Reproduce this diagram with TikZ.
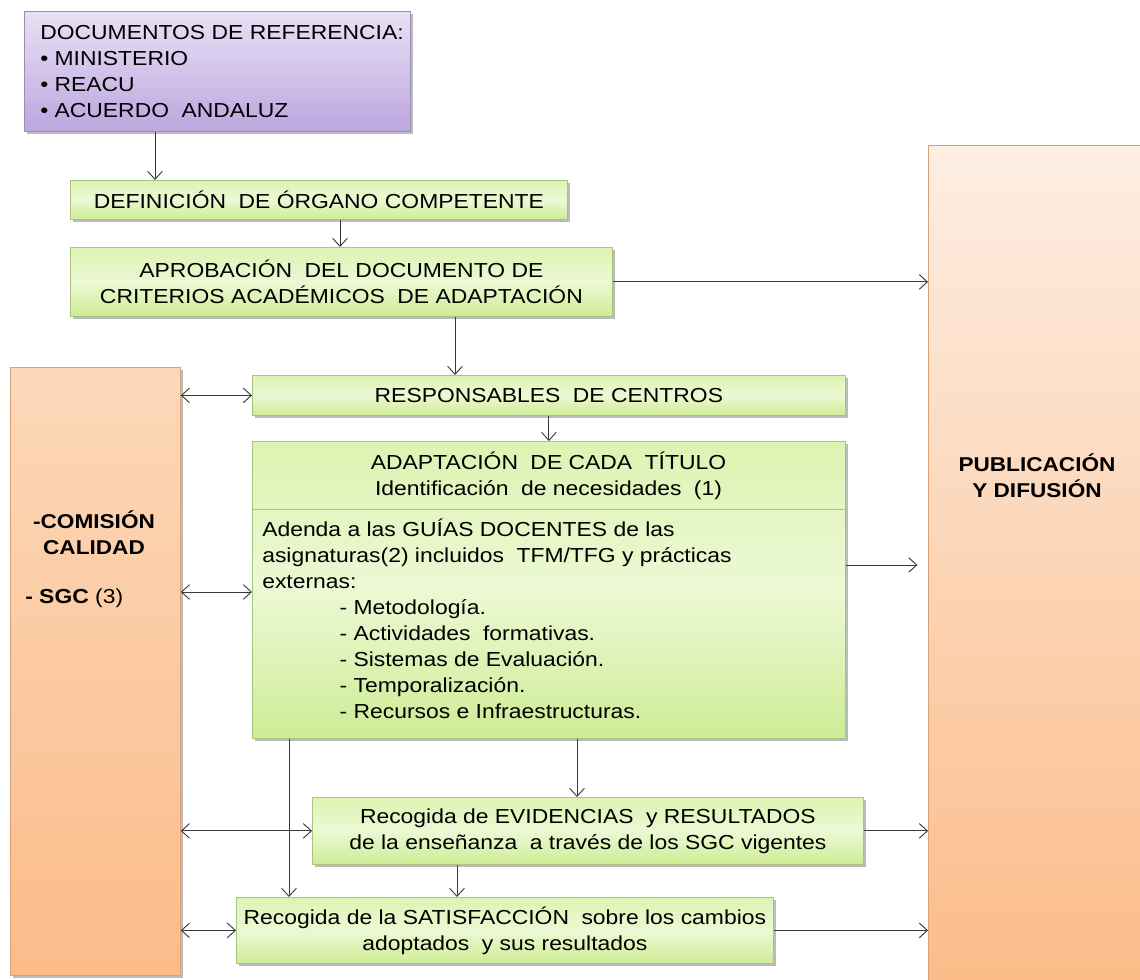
\documentclass[tikz,border=0pt]{standalone}
\usepackage{fontspec}
\setmainfont{Liberation Sans}[FakeStretch=1.13]
\usetikzlibrary{arrows.meta,calc,shadows}
\newcommand\dsp{\hspace{0.3em} }
\definecolor{lineC}{HTML}{3A3A3A}
\definecolor{purT}{HTML}{E9E1F5}
\definecolor{purB}{HTML}{BCA6DF}
\definecolor{purD}{HTML}{9C8CB8}
\definecolor{grnT}{HTML}{DDF3B2}
\definecolor{grnM}{HTML}{ECF9D4}
\definecolor{grnB}{HTML}{CDEC95}
\definecolor{grnD}{HTML}{A9C47E}
\definecolor{orT}{HTML}{FDEEE3}
\definecolor{orB}{HTML}{FBBC89}
\definecolor{orLT}{HTML}{FCD8BA}
\definecolor{orD}{HTML}{D9A178}
\begin{document}
\begin{tikzpicture}[x=0.75pt,y=-0.75pt,
  font=\fontsize{15.2}{19.5}\selectfont,
  shad/.style={drop shadow={shadow xshift=1.6pt,shadow yshift=-1.6pt,opacity=.4,fill=black!65}},
  base/.style={anchor=north west,inner sep=0pt,align=center,line width=0.6pt,shad},
  gbox/.style={base,draw=grnD,top color=grnT,bottom color=grnB,middle color=grnM},
  pbox/.style={base,draw=purD,top color=purT,bottom color=purB},
  obox/.style={base,draw=orD,top color=#1,bottom color=orB},
  txt/.style={inner sep=0pt},
  arr/.style={draw=lineC,line width=0.7pt,-{Straight Barb[length=6pt,width=11pt]}},
  darr/.style={draw=lineC,line width=0.7pt,{Straight Barb[length=6pt,width=11pt]}-{Straight Barb[length=6pt,width=11pt]}}
]
\useasboundingbox (0,0) rectangle (1140,980);
\fill[white] (0,0) rectangle (1140,980);

% boxes
\node[obox=orT,minimum width=165pt,minimum height=626.25pt] (pub) at (928,145) {};
\node[txt,font=\fontsize{15}{19.5}\selectfont\bfseries,align=center] (pubtext) at (1037,476) {PUBLICACIÓN\\Y DIFUSIÓN};

\node[obox=orLT,minimum width=127.5pt,minimum height=456pt] (left) at (10,367) {};
\node[txt,font=\fontsize{15}{19.5}\selectfont\bfseries,align=center] (com) at (94,533) {-COMISIÓN\\CALIDAD};
\node[txt,anchor=west] (sgc) at (25,598) {\textbf{- SGC} (3)};

\node[pbox,minimum width=289.5pt,minimum height=90pt] (pur) at (24,11) {};
\node[txt,anchor=north west,align=left] (purtext) at (40,25) {DOCUMENTOS DE REFERENCIA:\\• MINISTERIO\\• REACU\\• ACUERDO\dsp ANDALUZ};

\node[gbox,minimum width=372.75pt,minimum height=29.25pt] (def) at (70,180) {DEFINICIÓN\dsp DE ÓRGANO COMPETENTE};
\node[gbox,minimum width=406.5pt,minimum height=51.75pt] (apr) at (70,247) {APROBACIÓN\dsp DEL DOCUMENTO DE\\CRITERIOS ACADÉMICOS\dsp DE ADAPTACIÓN};
\node[gbox,minimum width=444.75pt,minimum height=30pt] (resp) at (252,375) {RESPONSABLES\dsp DE CENTROS};
\node[gbox,minimum width=444.75pt,minimum height=222.75pt] (adap) at (252,441) {};
\draw[draw=grnD,line width=0.6pt] ($(adap.north west)+(0,68)$) -- ($(adap.north east)+(0,68)$);
\node[txt,align=center] (adaphead) at ($(adap.north west)+(296.5,35)$) {ADAPTACIÓN\dsp DE CADA\dsp TÍTULO\\Identificación\dsp de necesidades\dsp (1)};
\node[txt,anchor=north west,align=left] (adapbody) at ($(adap.north west)+(10,78)$) {Adenda a las GUÍAS DOCENTES de las\\asignaturas(2) incluidos\dsp TFM/TFG y prácticas\\externas:\\
\hspace*{58pt}- Metodología.\\
\hspace*{58pt}- Actividades\dsp formativas.\\
\hspace*{58pt}- Sistemas de Evaluación.\\
\hspace*{58pt}- Temporalización.\\
\hspace*{58pt}- Recursos e Infraestructuras.};
\node[gbox,minimum width=413.25pt,minimum height=50.25pt] (evid) at (312,797) {Recogida de EVIDENCIAS\dsp y RESULTADOS\\de la enseñanza\dsp a través de los SGC vigentes};
\node[gbox,minimum width=402.75pt,minimum height=49.5pt] (sat) at (236,897) {Recogida de la SATISFACCIÓN\dsp sobre los cambios\\adoptados\dsp y sus resultados};

% connectors
\draw[arr] ($(pur.south west)+(131,0)$) -- ($(def.north west)+(85,0)$);
\draw[arr] ($(def.south west)+(270,0)$) -- ($(apr.north west)+(270,0)$);
\draw[arr] (apr.east) -- (apr.east -| pub.west);
\draw[arr] ($(apr.south west)+(385,0)$) -- ($(resp.north west)+(203,0)$);
\draw[darr] (resp.west -| left.east) -- (resp.west);
\draw[arr] (resp.south) -- (adap.north);
\draw[darr] ($(adap.north west)+(0,151)$) coordinate (a1) -- (a1 -| left.east);
\draw[arr,shorten >=8pt] ($(adap.north east)+(0,124)$) coordinate (a2) -- (a2 -| pub.west);
\draw[arr] ($(adap.south west)+(325,0)$) -- ($(evid.north west)+(265,0)$);
\draw[arr] ($(adap.south west)+(37,0)$) -- ($(sat.north west)+(53,0)$);
\draw[darr] (evid.west -| left.east) -- (evid.west);
\draw[arr] (evid.east) -- (evid.east -| pub.west);
\draw[arr] ($(evid.south west)+(145,0)$) -- ($(sat.north west)+(221,0)$);
\draw[darr] (sat.west -| left.east) -- (sat.west);
\draw[arr] (sat.east) -- (sat.east -| pub.west);
\end{tikzpicture}
\end{document}
